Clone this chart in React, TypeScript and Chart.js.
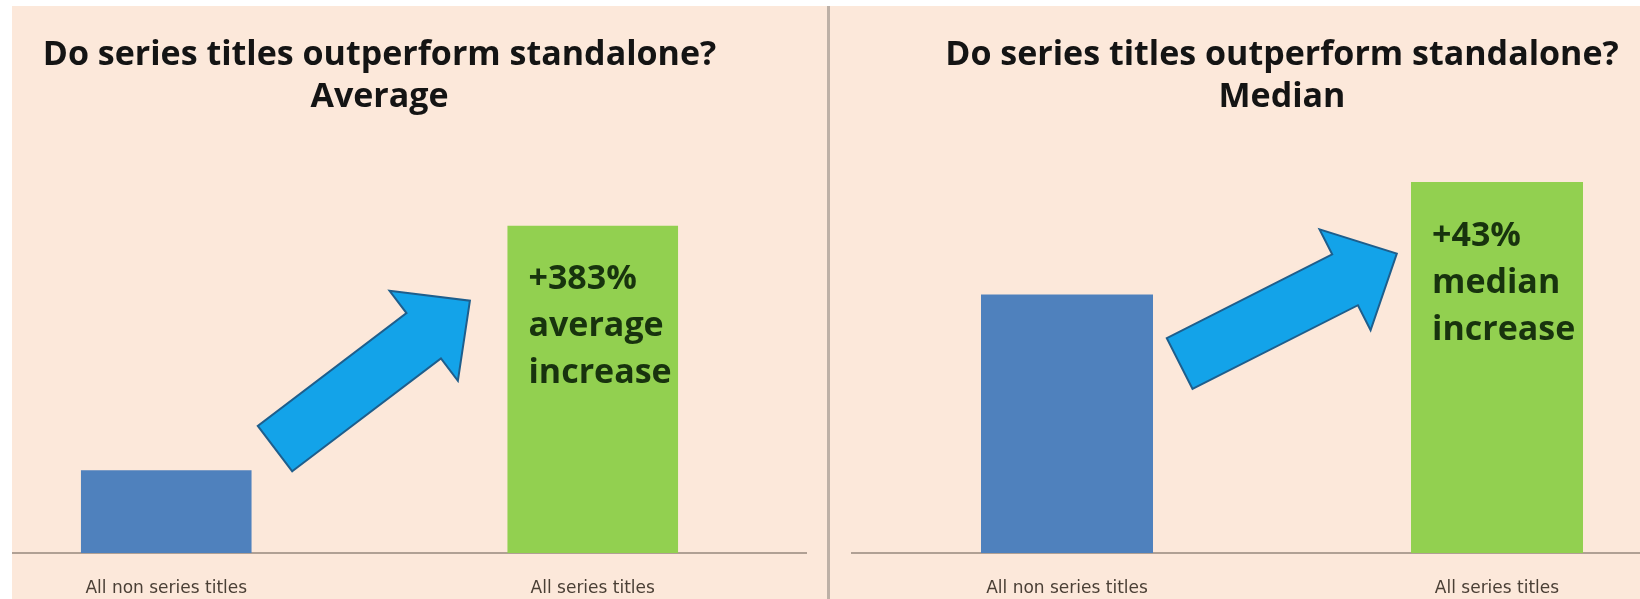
import React, { useEffect, useRef } from "react";
import { Chart, registerables } from "chart.js";

Chart.register(...registerables);

const categories = ["All non series titles", "All series titles"];
const averageValues = [25.3, 100];
const medianValues = [79, 113.4];
const averageNote = ["+383%", "average", "increase"];
const medianNote = ["+43%", "median", "increase"];
const titleLine = "Do series titles outperform standalone?";
const averageSubtitle = "Average";
const medianSubtitle = "Median";
// arrow: [tail category index, tail value, tip category index, tip value]
const averageArrow = [0.255, 31.9, 0.712, 77.1];
const medianArrow = [0.262, 57.9, 0.767, 91.5];
const yMax = 125;

const BG = "#FCE8DA";
const FONT = "'Open Sans', 'DejaVu Sans', sans-serif";

const arrowPlugin = {
  id: "bigArrow",
  afterDatasetsDraw(chart: any, _args: any, opts: any) {
    const a = opts.arrow as number[];
    if (!a) return;
    const xs = chart.scales.x;
    const ys = chart.scales.y;
    const tx = xs.getPixelForValue(a[0]);
    const ty = ys.getPixelForValue(a[1]);
    const px = xs.getPixelForValue(a[2]);
    const py = ys.getPixelForValue(a[3]);
    const dx = px - tx;
    const dy = py - ty;
    const len = Math.hypot(dx, dy);
    const ux = dx / len;
    const uy = dy / len;
    const nx = -uy;
    const ny = ux;
    const sw = 57 / 2;
    const hw = 113 / 2;
    const hl = 58;
    const bx = px - ux * hl;
    const by = py - uy * hl;
    const pts = [
      [tx + nx * sw, ty + ny * sw],
      [bx + nx * sw, by + ny * sw],
      [bx + nx * hw, by + ny * hw],
      [px, py],
      [bx - nx * hw, by - ny * hw],
      [bx - nx * sw, by - ny * sw],
      [tx - nx * sw, ty - ny * sw],
    ];
    const ctx = chart.ctx;
    ctx.save();
    ctx.beginPath();
    pts.forEach((p, i) => (i === 0 ? ctx.moveTo(p[0], p[1]) : ctx.lineTo(p[0], p[1])));
    ctx.closePath();
    ctx.fillStyle = "#13A3E9";
    ctx.fill();
    ctx.lineWidth = 2;
    ctx.strokeStyle = "#1E5E8C";
    ctx.lineJoin = "miter";
    ctx.stroke();
    ctx.restore();
  },
};

const notePlugin = {
  id: "barNote",
  afterDatasetsDraw(chart: any, _args: any, opts: any) {
    const lines = opts.lines as string[];
    if (!lines) return;
    const el = chart.getDatasetMeta(0).data[1];
    if (!el) return;
    const ctx = chart.ctx;
    ctx.save();
    ctx.font = `bold 34px ${FONT}`;
    ctx.fillStyle = "#18330E";
    ctx.textBaseline = "middle";
    ctx.textAlign = "left";
    const left = el.x - el.width / 2 + 21;
    lines.forEach((t, i) => ctx.fillText(t, left, el.y + 54 + i * 47));
    ctx.restore();
  },
};

function Panel(props: {
  values: number[];
  subtitle: string;
  note: string[];
  arrow: number[];
  padLeft: number;
  padRight: number;
}) {
  const ref = useRef<HTMLCanvasElement>(null);
  useEffect(() => {
    if (!ref.current) return;
    const chart = new Chart(ref.current, {
      type: "bar",
      data: {
        labels: categories,
        datasets: [
          {
            data: props.values,
            backgroundColor: ["#4F81BD", "#92D050"],
            borderWidth: 0,
            barPercentage: 0.4,
            categoryPercentage: 1,
          },
        ],
      },
      plugins: [arrowPlugin, notePlugin],
      options: {
        responsive: false,
        animation: false,
        events: [],
        layout: { padding: { left: props.padLeft, right: props.padRight, top: 0, bottom: 0 } },
        plugins: {
          legend: { display: false },
          tooltip: { enabled: false },
          title: {
            display: true,
            text: [titleLine, props.subtitle],
            color: "#141414",
            font: { family: FONT, size: 34, weight: "bold", lineHeight: 1.235 },
            padding: { top: 28, bottom: 26 },
          },
          bigArrow: { arrow: props.arrow },
          barNote: { lines: props.note },
        } as any,
        scales: {
          x: {
            grid: { display: true, color: "rgba(0,0,0,0)", drawTicks: false, drawOnChartArea: false },
            border: { display: true, color: "#B0A094", width: 2 },
            ticks: {
              color: "#4A3F35",
              padding: 25,
              font: { family: "'DejaVu Sans', sans-serif", size: 17 },
            },
            afterFit(scale: any) {
              scale.height = 46;
            },
          },
          y: { display: false, min: 0, max: yMax },
        },
      },
    });
    return () => chart.destroy();
  }, []);
  return <canvas ref={ref} width={880} height={593} style={{ width: 880, height: 593, display: "block" }} />;
}

export default function App() {
  useEffect(() => {
    document.body.style.margin = "0";
    document.body.style.background = "#ffffff";
  }, []);
  return (
    <div style={{ position: "fixed", left: 0, top: 0, width: 1640, height: 599, background: "#fff", overflow: "hidden" }}>
      <div style={{ position: "absolute", left: 12, top: 6, width: 815, height: 593, background: BG, overflow: "hidden" }}>
        <div style={{ position: "absolute", left: -72, top: 0 }}>
          <Panel values={averageValues} subtitle={averageSubtitle} note={averageNote} arrow={averageArrow} padLeft={13} padRight={14} />
        </div>
      </div>
      <div style={{ position: "absolute", left: 827, top: 6, width: 3, height: 593, background: "#BDB0A6" }} />
      <div style={{ position: "absolute", left: 830, top: 6, width: 810, height: 593, background: BG, overflow: "hidden" }}>
        <div style={{ position: "absolute", left: 9, top: 0 }}>
          <Panel values={medianValues} subtitle={medianSubtitle} note={medianNote} arrow={medianArrow} padLeft={13} padRight={7} />
        </div>
      </div>
    </div>
  );
}
